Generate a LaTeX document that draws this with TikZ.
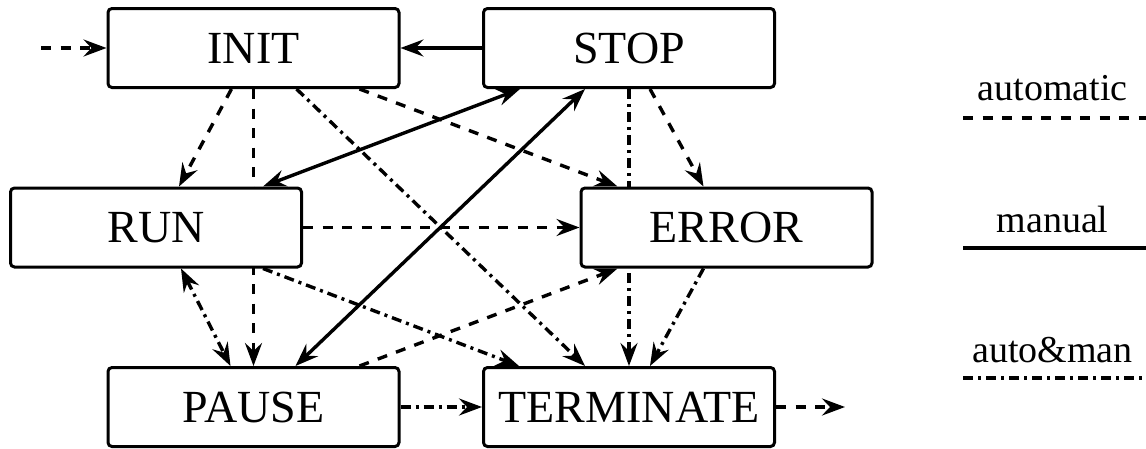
\documentclass[tikz,border=0pt]{standalone}
\usepackage{fontspec}
\setmainfont{Liberation Serif}
\usetikzlibrary{arrows.meta,backgrounds}
\begin{document}
\begin{tikzpicture}[x=1pt,y=-1pt,
  >={Stealth[length=23pt,width=17pt,inset=8pt]},
  box/.style={draw, line width=3pt, rounded corners=4pt, fill=white,
    minimum width=291pt, minimum height=79pt, inner sep=0pt,
    font=\fontsize{46}{54}\selectfont},
  legtext/.style={anchor=base, inner sep=0pt, font=\fontsize{38}{46}\selectfont},
  autol/.style={line width=3.4pt, dash pattern=on 10pt off 9.5pt},
  manl/.style={line width=3.4pt},
  aml/.style={line width=3.4pt, dash pattern=on 10pt off 5pt on 3pt off 5pt},
]
\useasboundingbox (0,0) rectangle (1146,448);

\node[box] (INIT) at (253.5,48) {INIT};
\node[box] (STOP) at (629,48) {STOP};
\node[box] (RUN) at (156,227.5) {RUN};
\node[box] (ERROR) at (726.5,227.5) {ERROR};
\node[box] (PAUSE) at (253.5,407) {PAUSE};
\node[box] (TERM) at (629,407) {TERMINATE};

\coordinate (entry) at (41,48);
\coordinate (exit) at (845,407);

\begin{pgfonlayer}{background}
\draw[autol,->] (entry) -- (INIT.west);
\draw[manl,->] (STOP.west) -- (INIT.east);
\draw[autol,->] ([xshift=-22pt]INIT.south) -- ([xshift=23pt]RUN.north);
\draw[autol,->] (INIT.south) -- (PAUSE.north);
\draw[aml,->] ([xshift=43pt]INIT.south) -- ([xshift=-44pt]TERM.north);
\draw[autol,->] ([xshift=106pt]INIT.south) -- ([xshift=-109pt]ERROR.north);
\draw[manl,<->] ([xshift=107pt]RUN.north) -- ([xshift=-109pt]STOP.south);
\draw[manl,<->] ([xshift=42pt]PAUSE.north) -- ([xshift=-44pt]STOP.south);
\draw[autol,->] ([xshift=21pt]STOP.south) -- ([xshift=-23pt]ERROR.north);
\draw[aml,->] (STOP.south) -- (TERM.north);
\draw[autol,->] (RUN.east) -- (ERROR.west);
\draw[aml,<->] ([xshift=25pt]RUN.south) -- ([xshift=-23pt]PAUSE.north);
\draw[aml,->] ([xshift=107pt]RUN.south) -- ([xshift=-110pt]TERM.north);
\draw[autol,->] ([xshift=106pt]PAUSE.north) -- ([xshift=-109pt]ERROR.south);
\draw[aml,->] ([xshift=-23pt]ERROR.south) -- ([xshift=21pt]TERM.north);
\draw[aml,->] (PAUSE.east) -- (TERM.west);
\draw[autol,->] (TERM.east) -- (exit);
\end{pgfonlayer}

% legend
\node[legtext] (lauto) at (1052.5,100) {automatic};
\node[legtext] (lman) at (1052.5,232) {manual};
\node[legtext] (lam) at (1052.5,362) {auto\&man};
\coordinate (la1) at (963,118); \coordinate (la2) at (1146,118);
\coordinate (lm1) at (963,248); \coordinate (lm2) at (1146,248);
\coordinate (lx1) at (963,378); \coordinate (lx2) at (1146,378);
\draw[autol] (la1) -- (la2);
\draw[manl] (lm1) -- (lm2);
\draw[aml] (lx1) -- (lx2);
\end{tikzpicture}
\end{document}
